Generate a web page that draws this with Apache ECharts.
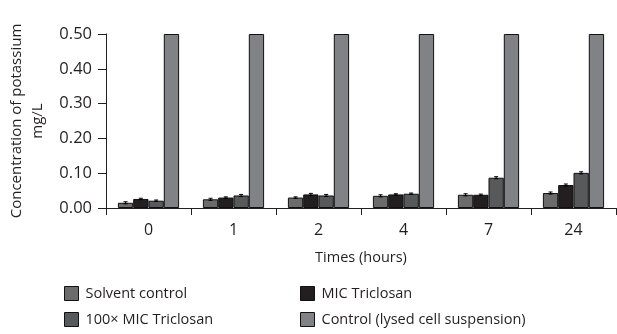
<!DOCTYPE html>
<html>
<head>
<meta charset="utf-8">
<script src="https://cdn.jsdelivr.net/npm/echarts@6/dist/echarts.min.js"></script>
<style>
html, body { margin: 0; padding: 0; background: #fff; }
#chart { width: 617px; height: 334px; }
</style>
</head>
<body>
<div id="chart"></div>
<script>
// 数据
var times = ['0', '1', '2', '4', '7', '24'];
var seriesNames = ['Solvent control', 'MIC Triclosan', '100\u00d7 MIC Triclosan', 'Control (lysed cell suspension)'];
var solventControl = [0.015, 0.025, 0.030, 0.035, 0.038, 0.043];
var micTriclosan = [0.026, 0.030, 0.039, 0.039, 0.038, 0.066];
var mic100Triclosan = [0.021, 0.036, 0.036, 0.041, 0.087, 0.101];
var lysedControl = [0.50, 0.50, 0.50, 0.50, 0.50, 0.50];
var errSolvent = [0.003, 0.003, 0.002, 0.003, 0.003, 0.003];
var errMic = [0.002, 0.002, 0.003, 0.002, 0.002, 0.003];
var errMic100 = [0.002, 0.003, 0.003, 0.002, 0.003, 0.003];

var colors = ['#6b6b6b', '#231f20', '#58595b', '#808285'];
var font = 'Open Sans';
var barPct = 0.18; // 柱宽占类目宽度比例

var chart = echarts.init(document.getElementById('chart'));

// 误差线（自定义系列）
function errorSeries(idx, vals, errs) {
	var data = [];
	for (var i = 0; i < vals.length; i++) {
		data.push([i, vals[i], errs[i]]);
	}
	return {
		type: 'custom',
		name: seriesNames[idx] + ' err',
		data: data,
		z: 10,
		renderItem: function(params, api) {
			var bw = api.size([1, 0])[0];
			var off = (idx - 1.5) * bw * barPct;
			var hi = api.coord([api.value(0), api.value(1) + api.value(2)]);
			var lo = api.coord([api.value(0), api.value(1) - api.value(2)]);
			var x = hi[0] + off;
			var cap = 2;
			var st = { stroke: '#000', lineWidth: 1 };
			return {
				type: 'group',
				children: [
					{ type: 'line', shape: { x1: x, y1: hi[1], x2: x, y2: lo[1] }, style: st },
					{ type: 'line', shape: { x1: x - cap, y1: hi[1], x2: x + cap, y2: hi[1] }, style: st },
					{ type: 'line', shape: { x1: x - cap, y1: lo[1], x2: x + cap, y2: lo[1] }, style: st }
				]
			};
		}
	};
}

function barSeries(idx, vals) {
	return {
		type: 'bar',
		name: seriesNames[idx],
		data: vals,
		barWidth: (barPct * 100) + '%',
		barGap: '0%',
		itemStyle: { color: colors[idx], borderColor: '#111', borderWidth: 1 }
	};
}

// 图例：每个条目单独定位
var legendPos = [[64, 286], [300, 286], [64, 312], [300, 312]];
var legends = [];
for (var k = 0; k < 4; k++) {
	legends.push({
		left: legendPos[k][0],
		top: legendPos[k][1],
		padding: 0,
		data: [{ name: seriesNames[k], icon: 'rect' }],
		itemWidth: 14,
		itemHeight: 14,
		itemGap: 6,
		selectedMode: false,
		textStyle: { fontFamily: font, fontSize: 14.5, color: '#231f20', padding: [0, 0, 0, 2] },
		itemStyle: { borderColor: '#111', borderWidth: 1 }
	});
}

var option = {
	animation: false,
	backgroundColor: '#fff',
	color: colors,
	legend: legends,
	grid: { left: 106, right: 1, top: 34, bottom: 126, outerBoundsMode: 'none', containLabel: false },
	xAxis: {
		type: 'category',
		data: times,
		name: 'Times (hours)',
		nameLocation: 'middle',
		nameGap: 42,
		nameTextStyle: { fontFamily: font, fontSize: 14.5, color: '#231f20' },
		axisLine: { lineStyle: { color: '#231f20', width: 1 } },
		axisTick: { show: true, length: 7, lineStyle: { color: '#231f20' } },
		axisLabel: { fontFamily: font, fontSize: 16, color: '#231f20', margin: 14 }
	},
	yAxis: {
		type: 'value',
		min: 0,
		max: 0.5,
		interval: 0.1,
		name: 'Concentration of potassium\nmg/L',
		nameLocation: 'middle',
		nameGap: 57,
		nameTextStyle: { fontFamily: font, fontSize: 15, color: '#231f20', lineHeight: 21, align: 'center' },
		axisLine: { show: true, lineStyle: { color: '#231f20', width: 1 } },
		axisTick: { show: true, length: 8, lineStyle: { color: '#231f20' } },
		splitLine: { show: false },
		axisLabel: {
			fontFamily: font, fontSize: 16.5, color: '#231f20', margin: 14,
			formatter: function(v) { return v.toFixed(2); }
		}
	},
	series: [
		barSeries(0, solventControl),
		barSeries(1, micTriclosan),
		barSeries(2, mic100Triclosan),
		barSeries(3, lysedControl),
		errorSeries(0, solventControl, errSolvent),
		errorSeries(1, micTriclosan, errMic),
		errorSeries(2, mic100Triclosan, errMic100)
	]
};

chart.setOption(option);

window.addEventListener('resize', function() {
	chart.resize();
});
</script>
</body>
</html>
